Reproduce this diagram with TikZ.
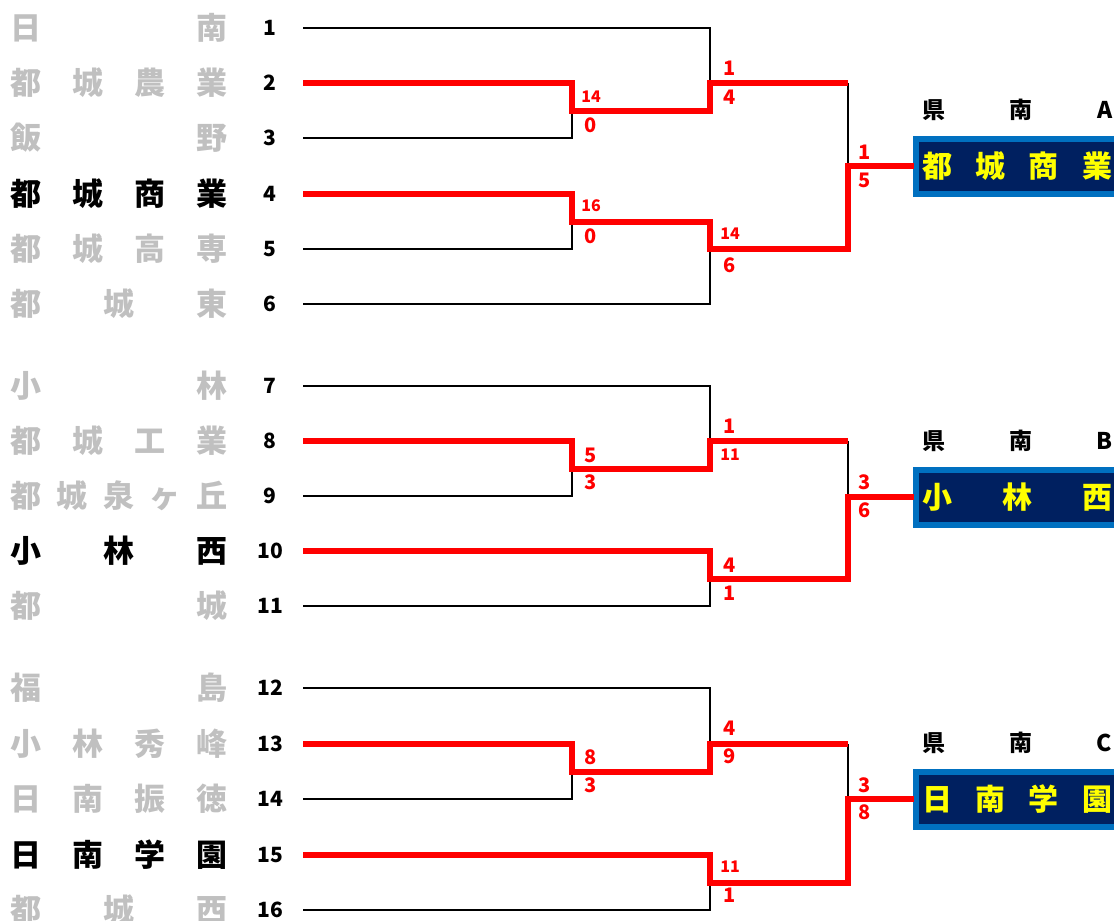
\documentclass[tikz,border=0pt]{standalone}
\usepackage{fontspec}
\newfontfamily\jp{Noto Sans CJK JP}
\definecolor{losegray}{RGB}{192,192,192}
\definecolor{navyfill}{RGB}{0,32,96}
\definecolor{blueedge}{RGB}{0,112,192}
\definecolor{winyellow}{RGB}{255,255,0}
\newcommand{\spreadname}[2]{\makebox[#1][s]{#2}}
\begin{document}
\begin{tikzpicture}[x=1pt,y=-1pt,
  team/.style={anchor=west, inner sep=0pt, font=\jp\bfseries\fontsize{31}{31}\selectfont},
  lose/.style={team, text=losegray},
  win/.style={team, text=black},
  seed/.style={inner sep=0pt, font=\jp\bfseries\fontsize{21}{21}\selectfont},
  score/.style={inner sep=0pt, text=red, font=\jp\bfseries\fontsize{20}{20}\selectfont},
  scoresm/.style={inner sep=0pt, text=red, font=\jp\bfseries\fontsize{16}{16}\selectfont},
  blk/.style={line width=2pt, black},
  winline/.style={line width=6pt, red, line join=miter},
  outerbox/.style={fill=blueedge, draw=none},
  innerbox/.style={fill=navyfill, draw=none},
  champ/.style={anchor=west, inner sep=0pt, text=winyellow, font=\jp\bfseries\fontsize{30}{30}\selectfont},
  zone/.style={anchor=west, inner sep=0pt, font=\jp\bfseries\fontsize{23}{23}\selectfont}
]
\useasboundingbox (0,0) rectangle (1114,921);

% team names
\node[lose] (t1)  at (10,28)  {\spreadname{217pt}{日\hfill 南}};
\node[lose] (t2)  at (10,83)  {\spreadname{217pt}{都\hfill 城\hfill 農\hfill 業}};
\node[lose] (t3)  at (10,138) {\spreadname{217pt}{飯\hfill 野}};
\node[win]  (t4)  at (10,194) {\spreadname{217pt}{都\hfill 城\hfill 商\hfill 業}};
\node[lose] (t5)  at (10,249) {\spreadname{217pt}{都\hfill 城\hfill 高\hfill 専}};
\node[lose] (t6)  at (10,304) {\spreadname{217pt}{都\hfill 城\hfill 東}};
\node[lose] (t7)  at (10,386) {\spreadname{217pt}{小\hfill 林}};
\node[lose] (t8)  at (10,441) {\spreadname{217pt}{都\hfill 城\hfill 工\hfill 業}};
\node[lose] (t9)  at (10,496) {\spreadname{217pt}{都\hfill 城\hfill 泉\hfill ヶ\hfill 丘}};
\node[win]  (t10) at (10,551) {\spreadname{217pt}{小\hfill 林\hfill 西}};
\node[lose] (t11) at (10,606) {\spreadname{217pt}{都\hfill 城}};
\node[lose] (t12) at (10,688) {\spreadname{217pt}{福\hfill 島}};
\node[lose] (t13) at (10,744) {\spreadname{217pt}{小\hfill 林\hfill 秀\hfill 峰}};
\node[lose] (t14) at (10,799) {\spreadname{217pt}{日\hfill 南\hfill 振\hfill 徳}};
\node[win]  (t15) at (10,855) {\spreadname{217pt}{日\hfill 南\hfill 学\hfill 園}};
\node[lose] (t16) at (10,910) {\spreadname{217pt}{都\hfill 城\hfill 西}};

% seed numbers
\foreach \n/\yy in {1/28,2/83,3/138,4/194,5/249,6/304,7/386,8/441,9/496,10/551,11/606,12/688,13/744,14/799,15/855,16/910}
  \node[seed] (s\n) at (270,\yy) {\n};

% line start coordinates
\foreach \n/\yy in {1/28,2/83,3/138,4/194,5/249,6/304,7/386,8/441,9/496,10/551,11/606,12/688,13/744,14/799,15/855,16/910}
  \coordinate (a\n) at (303,\yy);

% ---- block A ----
\draw[blk] (a1) -- (710,28) -- (710,83);
\draw[blk] (a3) -- (572,138) -- (572,111);
\draw[blk] (a5) -- (572,249) -- (572,222);
\draw[blk] (a6) -- (710,304) -- (710,249);
\draw[blk] (848,83) -- (848,166);
% ---- block B ----
\draw[blk] (a7) -- (710,386) -- (710,441);
\draw[blk] (a9) -- (572,496) -- (572,469);
\draw[blk] (a11) -- (710,606) -- (710,579);
\draw[blk] (848,441) -- (848,497);
% ---- block C ----
\draw[blk] (a12) -- (710,688) -- (710,744);
\draw[blk] (a14) -- (572,799) -- (572,772);
\draw[blk] (a16) -- (710,910) -- (710,883);
\draw[blk] (848,744) -- (848,799);

% champion boxes
\foreach \bx/\cy in {A/166,B/497,C/799}{
  \fill[outerbox] (913,\cy-30.5) rectangle (1114,\cy+30.5);
  \fill[innerbox] (919,\cy-24.5) rectangle (1114,\cy+24.5);
}
\coordinate (wA) at (914,166);
\coordinate (wB) at (914,497);
\coordinate (wC) at (914,799);

% red winning paths
\draw[winline] (a2) -- (572,83) -- (572,111) -- (710,111) -- (710,83) -- (848,83);
\draw[winline] (a4) -- (572,194) -- (572,222) -- (710,222) -- (710,249) -- (848,249) -- (848,166) -- (wA);
\draw[winline] (a8) -- (572,441) -- (572,469) -- (710,469) -- (710,441) -- (848,441);
\draw[winline] (a10) -- (710,551) -- (710,579) -- (848,579) -- (848,497) -- (wB);
\draw[winline] (a13) -- (572,744) -- (572,772) -- (710,772) -- (710,744) -- (848,744);
\draw[winline] (a15) -- (710,855) -- (710,883) -- (848,883) -- (848,799) -- (wC);

% champion texts
\node[champ] (cA) at (922,166) {\spreadname{190pt}{都\hfill 城\hfill 商\hfill 業}};
\node[champ] (cB) at (922,497) {\spreadname{190pt}{小\hfill 林\hfill 西}};
\node[champ] (cC) at (922,799) {\spreadname{190pt}{日\hfill 南\hfill 学\hfill 園}};
\node[zone] (zA) at (922,110) {\spreadname{190pt}{県\hfill 南\hfill A}};
\node[zone] (zB) at (922,441) {\spreadname{190pt}{県\hfill 南\hfill B}};
\node[zone] (zC) at (922,743) {\spreadname{190pt}{県\hfill 南\hfill C}};

% scores block A
\node[scoresm] (pA1) at (591,97) {14};
\node[score]   (pA2) at (591,125) {0};
\node[scoresm] (pA3) at (591,206) {16};
\node[score]   (pA4) at (591,236) {0};
\node[score]   (pA5) at (730,68) {1};
\node[score]   (pA6) at (730,97) {4};
\node[scoresm] (pA7) at (730,234) {14};
\node[score]   (pA8) at (730,265) {6};
\node[score]   (pA9) at (865,152) {1};
\node[score]   (pA10) at (865,180) {5};
% scores block B
\node[score]   (pB1) at (591,455) {5};
\node[score]   (pB2) at (591,482) {3};
\node[score]   (pB3) at (730,426) {1};
\node[scoresm] (pB4) at (730,455) {11};
\node[score]   (pB5) at (730,565) {4};
\node[score]   (pB6) at (730,593) {1};
\node[score]   (pB7) at (865,482) {3};
\node[score]   (pB8) at (865,510) {6};
% scores block C
\node[score]   (pC1) at (591,757) {8};
\node[score]   (pC2) at (591,785) {3};
\node[score]   (pC3) at (730,728) {4};
\node[score]   (pC4) at (730,756) {9};
\node[scoresm] (pC5) at (730,867) {11};
\node[score]   (pC6) at (730,895) {1};
\node[score]   (pC7) at (865,785) {3};
\node[score]   (pC8) at (865,812) {8};
\end{tikzpicture}
\end{document}
